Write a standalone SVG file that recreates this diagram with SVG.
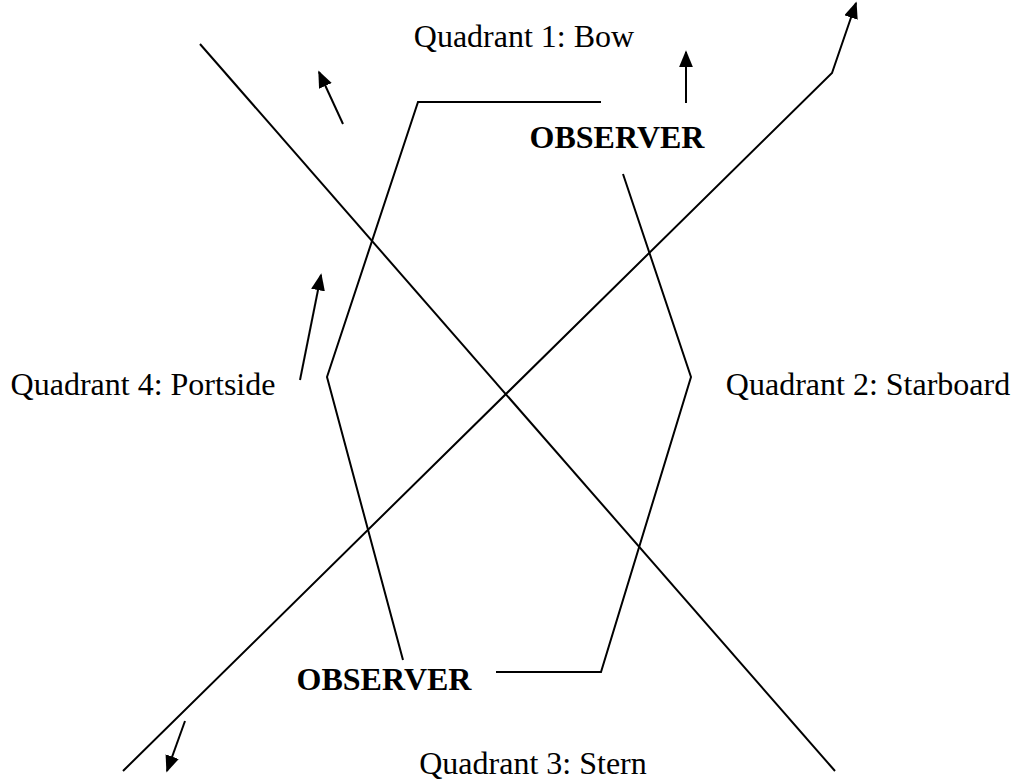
<svg xmlns="http://www.w3.org/2000/svg" width="1018" height="780" viewBox="0 0 1018 780">
<style>
.ln{fill:none;stroke:#000;stroke-width:2}
.ar{fill:none;stroke:#000;stroke-width:2;marker-end:url(#ah)}
.t{font-family:"Liberation Serif","Times New Roman",serif;font-size:32px;fill:#000}
.b{font-weight:bold}
</style>
<defs>
<marker id="ah" viewBox="0 0 10 10" refX="9" refY="5" markerWidth="17" markerHeight="14" markerUnits="userSpaceOnUse" orient="auto" preserveAspectRatio="none">
<path d="M0,0 L10,5 L0,10 z" fill="#000"/>
</marker>
</defs>
<rect width="1018" height="780" fill="#fff"/>
<g id="connectors">
<line class="ln" x1="200" y1="44" x2="835" y2="771"/>
<polyline class="ar" points="123,771 832,73 856,3"/>
<polyline class="ln" points="601,102 418,102 327,377 403,660"/>
<polyline class="ln" points="623,174 691,377 601,672 496,672"/>
<line class="ar" x1="343" y1="124" x2="319" y2="72"/>
<line class="ar" x1="686" y1="103" x2="686" y2="52"/>
<line class="ar" x1="300" y1="380" x2="321" y2="275"/>
<line class="ar" x1="185" y1="721" x2="167" y2="771"/>
</g>
<g id="q1"><text class="t" x="524" y="47" text-anchor="middle">Quadrant 1: Bow</text></g>
<g id="obs1"><text class="t b" x="617" y="148" text-anchor="middle">OBSERVER</text></g>
<g id="q4"><text class="t" x="143" y="395" text-anchor="middle">Quadrant 4: Portside</text></g>
<g id="q2"><text class="t" x="868" y="395" text-anchor="middle">Quadrant 2: Starboard</text></g>
<g id="obs2"><text class="t b" x="384" y="690" text-anchor="middle">OBSERVER</text></g>
<g id="q3"><text class="t" x="533" y="774" text-anchor="middle">Quadrant 3: Stern</text></g>
</svg>
